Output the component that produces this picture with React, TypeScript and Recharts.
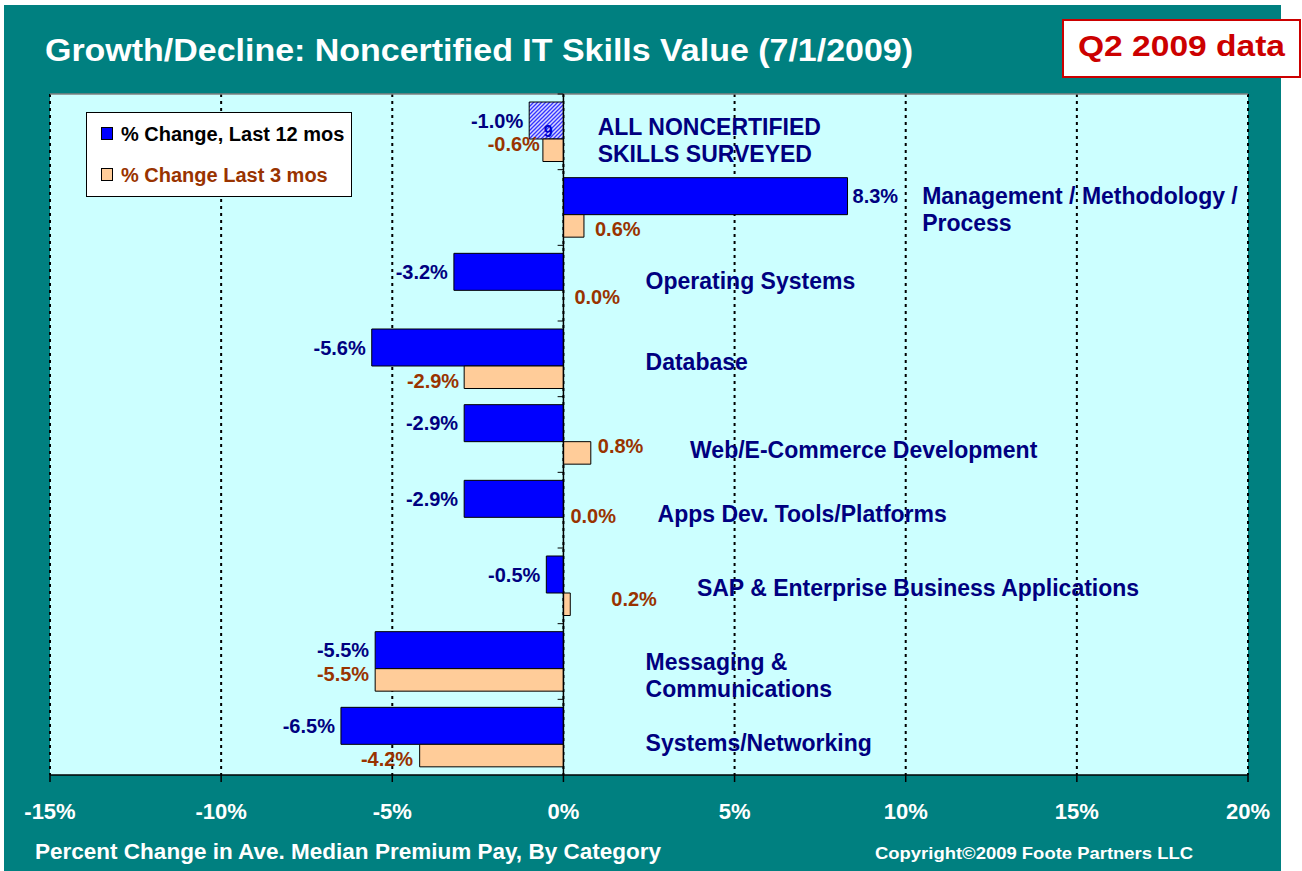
import React from "react";
import {
  BarChart,
  Bar,
  XAxis,
  YAxis,
  CartesianGrid,
  ReferenceLine,
  LabelList,
  Cell,
} from "recharts";

// ---------------- data ----------------
const categories = [
  "ALL NONCERTIFIED\nSKILLS SURVEYED",
  "Management / Methodology /\nProcess",
  "Operating Systems",
  "Database",
  "Web/E-Commerce Development",
  "Apps Dev. Tools/Platforms",
  "SAP & Enterprise Business Applications",
  "Messaging &\nCommunications",
  "Systems/Networking",
];
const change12 = [-1.0, 8.3, -3.2, -5.6, -2.9, -2.9, -0.5, -5.5, -6.5];
const change3 = [-0.6, 0.6, 0.0, -2.9, 0.8, 0.0, 0.2, -5.5, -4.2];
const barNotes = ["9", "", "", "", "", "", "", "", ""];
const xTicks = [-15, -10, -5, 0, 5, 10, 15, 20];
const seriesNames = ["% Change, Last 12 mos", "% Change Last 3 mos"];

// label placement (style): x in axis units, vertical nudge in px
const catLabelX = [1.0, 10.48, 2.4, 2.4, 3.7, 2.75, 3.9, 2.4, 2.4];
const catLabelDy = [9, 2.5, -2, 3, 15.5, 4, 2, 14.5, 6];
// small per-label nudges for the 3-month value labels (style) [dx, dy]
const c3LabelNudge = [
  [2, -6],
  [0, 3],
  [0, -4.6],
  [0, 3.7],
  [-4, -7],
  [-4, -12.6],
  [30, -5.3],
  [-1, -6],
  [-1.5, 3.4],
];

const data = categories.map((name, i) => ({
  name,
  c12: change12[i],
  c3: change3[i],
  note: barNotes[i],
  idx: i,
}));

// ---------------- layout ----------------
const W = 1302;
const H = 871;
const PLOT_L = 50;
const PLOT_R = 1248;
const PLOT_T = 94;
const PLOT_B = 775;
const XAXIS_H = 30;
const X_MIN = -15;
const X_MAX = 20;
const BLUE_SIZE = 37;
const ORANGE_SIZE = 22.5;

const FONT = "'Liberation Sans', Arial, Helvetica, sans-serif";
const NAVY = "#000080";
const BROWN = "#993300";
const BLUE = "#0000FF";
const PEACH = "#FFCC99";
const TEAL = "#008080";

const xPx = (v: number) =>
  PLOT_L + ((v - X_MIN) * (PLOT_R - PLOT_L)) / (X_MAX - X_MIN);

const fmt = (v: number) => `${v.toFixed(1)}%`;

const box = (p: any) => {
  const vb = p.viewBox || p;
  const x = Number(vb.x);
  const w = Number(vb.width);
  const y = Number(vb.y);
  const h = Number(vb.height);
  return {
    left: Math.min(x, x + w),
    right: Math.max(x, x + w),
    top: Math.min(y, y + h),
    height: Math.abs(h),
  };
};

const BlueValueLabel = (p: any) => {
  const b = box(p);
  const v = Number(p.value);
  const neg = v < 0;
  const cy = b.top + b.height / 2;
  return (
    <text
      x={neg ? b.left - 6 : b.right + 5}
      y={cy + 7}
      textAnchor={neg ? "end" : "start"}
      fontFamily={FONT}
      fontWeight="bold"
      fontSize={20}
      fill={NAVY}
    >
      {fmt(v)}
    </text>
  );
};

// 3-month labels are attached to the 12-month bar (so zero values still show)
const OrangeValueLabel = (p: any) => {
  const b = box(p);
  const i = Number(p.value);
  const v = change3[i];
  const neg = v < 0;
  const zero = xPx(0);
  const end = xPx(v);
  const left = Math.min(zero, end);
  const right = Math.max(zero, end);
  const [dx, dy] = c3LabelNudge[i] || [0, 0];
  const cy = b.top + BLUE_SIZE + ORANGE_SIZE / 2 + dy;
  return (
    <text
      x={(neg ? left - 5 : right + 11) + dx}
      y={cy + 7}
      textAnchor={neg ? "end" : "start"}
      fontFamily={FONT}
      fontWeight="bold"
      fontSize={20}
      fill={BROWN}
    >
      {fmt(v)}
    </text>
  );
};

const NoteLabel = (p: any) => {
  if (!p.value) return null;
  const b = box(p);
  return (
    <text
      x={(b.left + b.right) / 2 + 2}
      y={b.top + b.height / 2 + 16}
      textAnchor="middle"
      fontFamily={FONT}
      fontWeight="bold"
      fontSize={16}
      fill="#0000CC"
    >
      {String(p.value)}
    </text>
  );
};

const CategoryLabel = (p: any) => {
  const b = box(p);
  const name = String(p.value);
  const i = categories.indexOf(name);
  const lines = name.split("\n");
  const cy = b.top + (BLUE_SIZE + ORANGE_SIZE) / 2 + (catLabelDy[i] || 0);
  const x = xPx(catLabelX[i] ?? 2);
  return (
    <text fontFamily={FONT} fontWeight="bold" fontSize={23} fill={NAVY}>
      {lines.map((l, k) => (
        <tspan key={k} x={x} y={cy + 8 + (k - (lines.length - 1) / 2) * 27}>
          {l}
        </tspan>
      ))}
    </text>
  );
};

const XTick = (p: any) => {
  const { x, y, payload } = p;
  return (
    <text
      x={x}
      y={y + 37}
      textAnchor="middle"
      fontFamily={FONT}
      fontWeight="bold"
      fontSize={22}
      fill="#FFFFFF"
    >
      {`${payload.value}%`}
    </text>
  );
};

const TICK_LEN = 0.17;

export default function App() {
  return (
    <div
      style={{
        position: "absolute",
        left: 0,
        top: 0,
        width: W,
        height: H,
        background: "#FFFFFF",
        overflow: "hidden",
      }}
    >
      <svg width={0} height={0} style={{ position: "absolute" }}>
        <defs>
          <pattern
            id="hatch"
            width={4}
            height={4}
            patternUnits="userSpaceOnUse"
          >
            <rect width={4} height={4} fill="#D8D8FF" />
            <path
              d="M-1,1 l2,-2 M0,4 l4,-4 M3,5 l2,-2"
              stroke="#3333FF"
              strokeWidth={1.3}
            />
          </pattern>
        </defs>
      </svg>
      <div
        style={{
          position: "absolute",
          left: 4,
          top: 5,
          width: 1277,
          height: 866,
          background: TEAL,
        }}
      />
      <div style={{ position: "absolute", left: 0, top: 0 }}>
        <BarChart
          width={W}
          height={H}
          data={data}
          layout="vertical"
          barGap={0}
          margin={{
            top: PLOT_T,
            left: PLOT_L,
            right: W - PLOT_R,
            bottom: H - PLOT_B - XAXIS_H,
          }}
        >
          <CartesianGrid
            horizontal={false}
            vertical={true}
            fill="#CCFFFF"
            fillOpacity={1}
            stroke="#000000"
            strokeWidth={2}
            strokeDasharray="3 4"
          />
          <XAxis
            type="number"
            domain={[X_MIN, X_MAX]}
            ticks={xTicks}
            allowDataOverflow
            height={XAXIS_H}
            tickSize={7}
            tickMargin={0}
            axisLine={{ stroke: "#000000", strokeWidth: 1.5 }}
            tickLine={{ stroke: "#000000", strokeWidth: 1.5 }}
            tick={<XTick />}
            interval={0}
          />
          <YAxis type="category" dataKey="name" hide />
          <ReferenceLine
            y={categories[0]}
            position="start"
            stroke="#808080"
            strokeWidth={1.5}
          />
          {categories.map((c) => (
            <ReferenceLine
              key={`t-${c}`}
              segment={[
                { x: -TICK_LEN, y: c },
                { x: 0, y: c },
              ]}
              position="start"
              stroke="#000000"
              strokeWidth={1}
            />
          ))}
          <Bar
            dataKey="c12"
            name={seriesNames[0]}
            fill={BLUE}
            stroke="#000000"
            strokeWidth={1}
            barSize={BLUE_SIZE}
            isAnimationActive={false}
          >
            {data.map((d, i) => (
              <Cell key={i} fill={i === 0 ? "url(#hatch)" : BLUE} />
            ))}
            <LabelList dataKey="c12" content={<BlueValueLabel />} />
            <LabelList dataKey="idx" content={<OrangeValueLabel />} />
            <LabelList dataKey="note" content={<NoteLabel />} />
            <LabelList dataKey="name" content={<CategoryLabel />} />
          </Bar>
          <Bar
            dataKey="c3"
            name={seriesNames[1]}
            fill={PEACH}
            stroke="#000000"
            strokeWidth={1}
            barSize={ORANGE_SIZE}
            isAnimationActive={false}
          />
          <ReferenceLine x={0} stroke="#000000" strokeWidth={1.5} />
        </BarChart>
      </div>
      <svg
        width={W}
        height={H}
        style={{ position: "absolute", left: 0, top: 0, pointerEvents: "none" }}
      >
        <text
          x={45}
          y={61}
          fontFamily={FONT}
          fontWeight="bold"
          fontSize={31}
          fill="#FFFFFF"
          textLength={868}
          lengthAdjust="spacingAndGlyphs"
        >
          Growth/Decline: Noncertified IT Skills Value (7/1/2009)
        </text>
        <rect
          x={1063}
          y={20}
          width={237}
          height={57}
          fill="#FFFFFF"
          stroke="#CC0000"
          strokeWidth={2}
        />
        <text
          x={1078}
          y={56}
          fontFamily={FONT}
          fontWeight="bold"
          fontSize={30}
          fill="#CC0000"
          textLength={207}
          lengthAdjust="spacingAndGlyphs"
        >
          Q2 2009 data
        </text>
        <rect
          x={86.5}
          y={112.5}
          width={265}
          height={84}
          fill="#FFFFFF"
          stroke="#000000"
          strokeWidth={1}
        />
        <rect
          x={101.5}
          y={127.5}
          width={11}
          height={12}
          fill={BLUE}
          stroke="#000000"
        />
        <text
          x={121}
          y={141}
          fontFamily={FONT}
          fontWeight="bold"
          fontSize={20}
          fill="#000000"
        >
          {seriesNames[0]}
        </text>
        <rect
          x={101.5}
          y={168.5}
          width={11}
          height={12}
          fill={PEACH}
          stroke="#000000"
        />
        <text
          x={121}
          y={182}
          fontFamily={FONT}
          fontWeight="bold"
          fontSize={20}
          fill={BROWN}
        >
          {seriesNames[1]}
        </text>
        <text
          x={35}
          y={859}
          fontFamily={FONT}
          fontWeight="bold"
          fontSize={22}
          fill="#FFFFFF"
          textLength={626}
          lengthAdjust="spacingAndGlyphs"
        >
          Percent Change in Ave. Median Premium Pay, By Category
        </text>
        <text
          x={875}
          y={859}
          fontFamily={FONT}
          fontWeight="bold"
          fontSize={17}
          fill="#FFFFFF"
          textLength={318}
          lengthAdjust="spacingAndGlyphs"
        >
          Copyright©2009 Foote Partners LLC
        </text>
      </svg>
    </div>
  );
}
